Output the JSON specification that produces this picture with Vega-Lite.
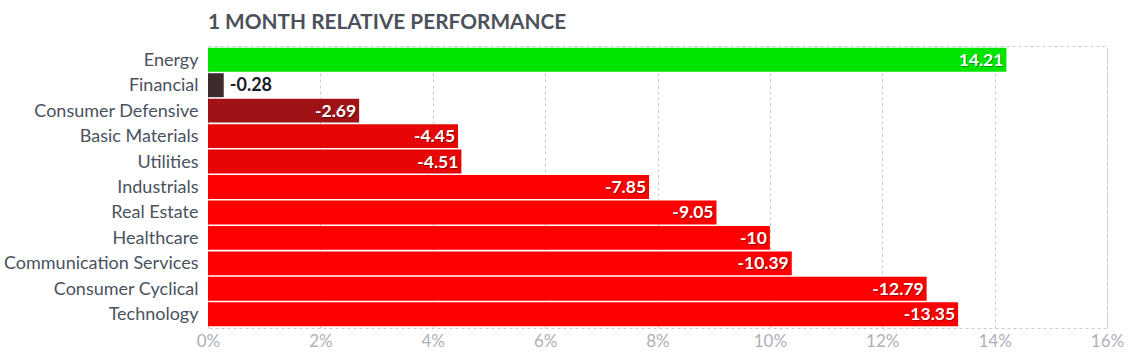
{
  "$schema": "https://vega.github.io/schema/vega-lite/v6.json",
  "width": 899,
  "height": 282,
  "autosize": {"type": "none"},
  "padding": {"left": 208, "top": 46, "right": 27, "bottom": 31},
  "background": "white",
  "title": {
    "text": "1 MONTH RELATIVE PERFORMANCE",
    "anchor": "start",
    "frame": "group",
    "font": "Lato",
    "fontSize": 20.8,
    "fontWeight": "bold",
    "color": "#4b515b",
    "offset": 12
  },
  "config": {
    "view": {"stroke": "#cccccc", "strokeDash": [3, 3], "strokeWidth": 1},
    "font": "Lato"
  },
  "data": {
    "values": [
      {"sector": "Energy", "value": 14.21, "size": 14.21, "pos": "in"},
      {"sector": "Financial", "value": -0.28, "size": 0.28, "pos": "out"},
      {"sector": "Consumer Defensive", "value": -2.69, "size": 2.69, "pos": "in"},
      {"sector": "Basic Materials", "value": -4.45, "size": 4.45, "pos": "in"},
      {"sector": "Utilities", "value": -4.51, "size": 4.51, "pos": "in"},
      {"sector": "Industrials", "value": -7.85, "size": 7.85, "pos": "in"},
      {"sector": "Real Estate", "value": -9.05, "size": 9.05, "pos": "in"},
      {"sector": "Healthcare", "value": -10, "size": 10, "pos": "in"},
      {"sector": "Communication Services", "value": -10.39, "size": 10.39, "pos": "in"},
      {"sector": "Consumer Cyclical", "value": -12.79, "size": 12.79, "pos": "in"},
      {"sector": "Technology", "value": -13.35, "size": 13.35, "pos": "in"}
    ]
  },
  "encoding": {
    "y": {
      "field": "sector",
      "type": "nominal",
      "sort": null,
      "scale": {"paddingInner": 0.06, "paddingOuter": 0.07},
      "axis": {
        "title": null,
        "domain": false,
        "ticks": false,
        "labelFont": "Lato",
        "labelFontSize": 18,
        "labelColor": "#4a5260",
        "labelPadding": 10,
        "labelLimit": 0,
        "labelOffset": 1
      }
    },
    "x": {
      "field": "size",
      "type": "quantitative",
      "scale": {"domain": [0, 16], "nice": false},
      "axis": {
        "title": null,
        "values": [0, 2, 4, 6, 8, 10, 12, 14, 16],
        "labelExpr": "datum.value + '%'",
        "domain": false,
        "ticks": false,
        "grid": true,
        "gridColor": "#cccccc",
        "gridDash": [3, 3],
        "labelFont": "Lato",
        "labelFontSize": 17,
        "labelColor": "#adb1b8",
        "labelPadding": 5,
        "labelFlush": false
      }
    }
  },
  "layer": [
    {
      "mark": {"type": "bar"},
      "encoding": {
        "color": {
          "field": "sector",
          "type": "nominal",
          "legend": null,
          "scale": {
            "domain": ["Energy", "Financial", "Consumer Defensive", "Basic Materials", "Utilities", "Industrials", "Real Estate", "Healthcare", "Communication Services", "Consumer Cyclical", "Technology"],
            "range": ["#00e500", "#3b2b2b", "#a01216", "#e60606", "#e60606", "#ff0000", "#ff0000", "#ff0000", "#ff0000", "#ff0000", "#ff0000"]
          }
        }
      }
    },
    {
      "transform": [{"filter": "datum.pos == 'in'"}],
      "mark": {"type": "text", "align": "right", "baseline": "middle", "dx": -2, "dy": 2, "font": "Lato", "fontSize": 17.5, "fontWeight": "bold", "color": "#000000", "opacity": 0.35},
      "encoding": {"text": {"field": "value", "type": "nominal"}}
    },
    {
      "transform": [{"filter": "datum.pos == 'in'"}],
      "mark": {"type": "text", "align": "right", "baseline": "middle", "dx": -3, "dy": 1, "font": "Lato", "fontSize": 17.5, "fontWeight": "bold", "color": "#ffffff"},
      "encoding": {"text": {"field": "value", "type": "nominal"}}
    },
    {
      "transform": [{"filter": "datum.pos == 'out'"}],
      "mark": {"type": "text", "align": "left", "baseline": "middle", "dx": 6, "dy": 1, "font": "Lato", "fontSize": 18, "fontWeight": "bold", "color": "#1b1b28"},
      "encoding": {"text": {"field": "value", "type": "nominal"}}
    }
  ]
}
